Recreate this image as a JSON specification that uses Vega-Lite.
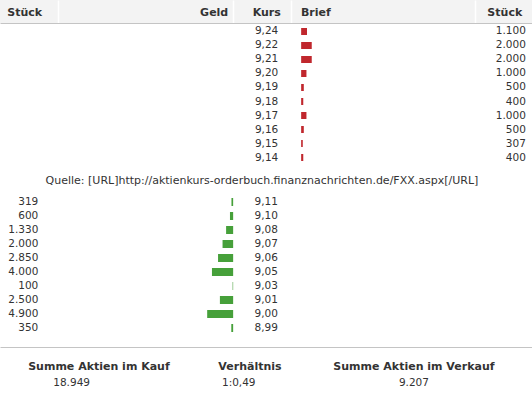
{
  "$schema": "https://vega.github.io/schema/vega-lite/v6.json",
  "padding": 0,
  "background": "white",
  "spacing": 0,
  "config": {
    "view": {"stroke": null},
    "locale": {"number": {"decimal": ",", "thousands": ".", "grouping": [3], "currency": ["", " €"]}},
    "text": {"font": "DejaVu Sans", "fontSize": 10.5, "color": "#333333"},
    "concat": {"spacing": 0}
  },
  "datasets": {
    "ask": [
      {"kurs": 9.24, "stueck": 1100}, {"kurs": 9.22, "stueck": 2000}, {"kurs": 9.21, "stueck": 2000},
      {"kurs": 9.20, "stueck": 1000}, {"kurs": 9.19, "stueck": 500}, {"kurs": 9.18, "stueck": 400},
      {"kurs": 9.17, "stueck": 1000}, {"kurs": 9.16, "stueck": 500}, {"kurs": 9.15, "stueck": 307},
      {"kurs": 9.14, "stueck": 400}
    ],
    "bid": [
      {"kurs": 9.11, "stueck": 319}, {"kurs": 9.10, "stueck": 600}, {"kurs": 9.08, "stueck": 1330},
      {"kurs": 9.07, "stueck": 2000}, {"kurs": 9.06, "stueck": 2850}, {"kurs": 9.05, "stueck": 4000},
      {"kurs": 9.03, "stueck": 100}, {"kurs": 9.01, "stueck": 2500}, {"kurs": 9.00, "stueck": 4900},
      {"kurs": 8.99, "stueck": 350}
    ]
  },
  "vconcat": [
    {
      "width": 532, "height": 23,
      "view": {"fill": "#f3f3f3", "stroke": null},
      "data": {"values": [{"a": "Stück", "b": "Geld", "c": "Kurs", "d": "Brief", "e": "Stück"}]},
      "layer": [
        {"mark": {"type": "text", "align": "left", "fontWeight": "bold", "fontSize": 11, "dy": 1},
         "encoding": {"text": {"field": "a"},
          "x": {"datum": -42630, "type": "quantitative", "scale": {"domain": [-44000, 56400], "nice": false, "zero": false},
                "axis": {"orient": "bottom", "domain": true, "domainColor": "#c4c4c4", "domainWidth": 1, "labels": false, "ticks": false, "title": null, "grid": true, "gridColor": "#ffffff", "gridWidth": 1.5, "values": [-33000, 0, 10900, 45630]}}}},
        {"mark": {"type": "text", "align": "right", "fontWeight": "bold", "fontSize": 11, "dy": 1},
         "encoding": {"text": {"field": "b"}, "x": {"datum": -925, "type": "quantitative"}}},
        {"mark": {"type": "text", "align": "left", "fontWeight": "bold", "fontSize": 11, "dy": 1},
         "encoding": {"text": {"field": "c"}, "x": {"datum": 3680, "type": "quantitative"}}},
        {"mark": {"type": "text", "align": "left", "fontWeight": "bold", "fontSize": 11, "dy": 1},
         "encoding": {"text": {"field": "d"}, "x": {"datum": 12795, "type": "quantitative"}}},
        {"mark": {"type": "text", "align": "right", "fontWeight": "bold", "fontSize": 11, "dy": 1},
         "encoding": {"text": {"field": "e"}, "x": {"datum": 54557, "type": "quantitative"}}}
      ]
    },
    {
      "width": 532, "height": 143,
      "data": {"name": "ask"},
      "encoding": {"y": {"field": "kurs", "type": "ordinal", "sort": "descending", "axis": null, "scale": {"paddingInner": 0, "paddingOuter": 0.107}}},
      "layer": [
        {"mark": {"type": "bar", "color": "#c0272d", "height": 7, "xOffset": 68, "x2Offset": 68},
         "encoding": {"x": {"field": "stueck", "type": "quantitative", "scale": {"domain": [-44000, 56400], "nice": false, "zero": false}, "axis": null}}},
        {"mark": {"type": "text", "align": "left"},
         "encoding": {"x": {"datum": 4110, "type": "quantitative"}, "text": {"field": "kurs", "type": "quantitative", "format": ".2f"}}},
        {"mark": {"type": "text", "align": "right"},
         "encoding": {"x": {"datum": 55250, "type": "quantitative"}, "text": {"field": "stueck", "type": "quantitative", "format": ",d"}}}
      ]
    },
    {
      "width": 532, "height": 29,
      "data": {"values": [{"q": "Quelle: [URL]http://aktienkurs-orderbuch.finanznachrichten.de/FXX.aspx[/URL]"}]},
      "mark": {"type": "text", "align": "center", "fontSize": 11},
      "encoding": {"text": {"field": "q"}, "x": {"datum": 5435, "type": "quantitative", "scale": {"domain": [-44000, 56400], "nice": false, "zero": false}, "axis": null}}
    },
    {
      "width": 532, "height": 152,
      "data": {"name": "bid"},
      "encoding": {"y": {"field": "kurs", "type": "ordinal", "sort": "descending", "axis": null, "scale": {"paddingInner": 0, "paddingOuter": 0.4286, "align": 0}}},
      "layer": [
        {"mark": {"type": "bar", "color": "#46a03a", "height": 8},
         "encoding": {"x": {"field": "stueck", "type": "quantitative", "scale": {"domain": [-56400, 44000], "reverse": true, "nice": false, "zero": false}, "axis": null}}},
        {"mark": {"type": "text", "align": "left"},
         "encoding": {"x": {"datum": -4030, "type": "quantitative"}, "text": {"field": "kurs", "type": "quantitative", "format": ".2f"}}},
        {"mark": {"type": "text", "align": "right"},
         "encoding": {"x": {"datum": 36770, "type": "quantitative"}, "text": {"field": "stueck", "type": "quantitative", "format": ",d"}}}
      ]
    },
    {
      "width": 532, "height": 51,
      "data": {"values": [{"t1": "Summe Aktien im Kauf", "v1": "18.949", "t2": "Verhältnis", "v2": "1:0,49", "t3": "Summe Aktien im Verkauf", "v3": "9.207"}]},
      "layer": [
        {"mark": {"type": "text", "align": "center", "fontWeight": "bold", "fontSize": 11, "dy": -6},
         "encoding": {"text": {"field": "t1"},
          "x": {"datum": -25326, "type": "quantitative", "scale": {"domain": [-44000, 56400], "nice": false, "zero": false},
                "axis": {"orient": "top", "domain": true, "domainColor": "#c4c4c4", "domainWidth": 1, "labels": false, "ticks": false, "grid": false, "title": null}}}},
        {"mark": {"type": "text", "align": "left", "dy": 10},
         "encoding": {"text": {"field": "v1"}, "x": {"datum": -33950, "type": "quantitative"}}},
        {"mark": {"type": "text", "align": "center", "fontWeight": "bold", "fontSize": 11, "dy": -6},
         "encoding": {"text": {"field": "t2"}, "x": {"datum": 3170, "type": "quantitative"}}},
        {"mark": {"type": "text", "align": "left", "dy": 10},
         "encoding": {"text": {"field": "v2"}, "x": {"datum": -2114, "type": "quantitative"}}},
        {"mark": {"type": "text", "align": "center", "fontWeight": "bold", "fontSize": 11, "dy": -6},
         "encoding": {"text": {"field": "t3"}, "x": {"datum": 34120, "type": "quantitative"}}},
        {"mark": {"type": "text", "align": "center", "dy": 10},
         "encoding": {"text": {"field": "v3"}, "x": {"datum": 34120, "type": "quantitative"}}}
      ]
    }
  ]
}
